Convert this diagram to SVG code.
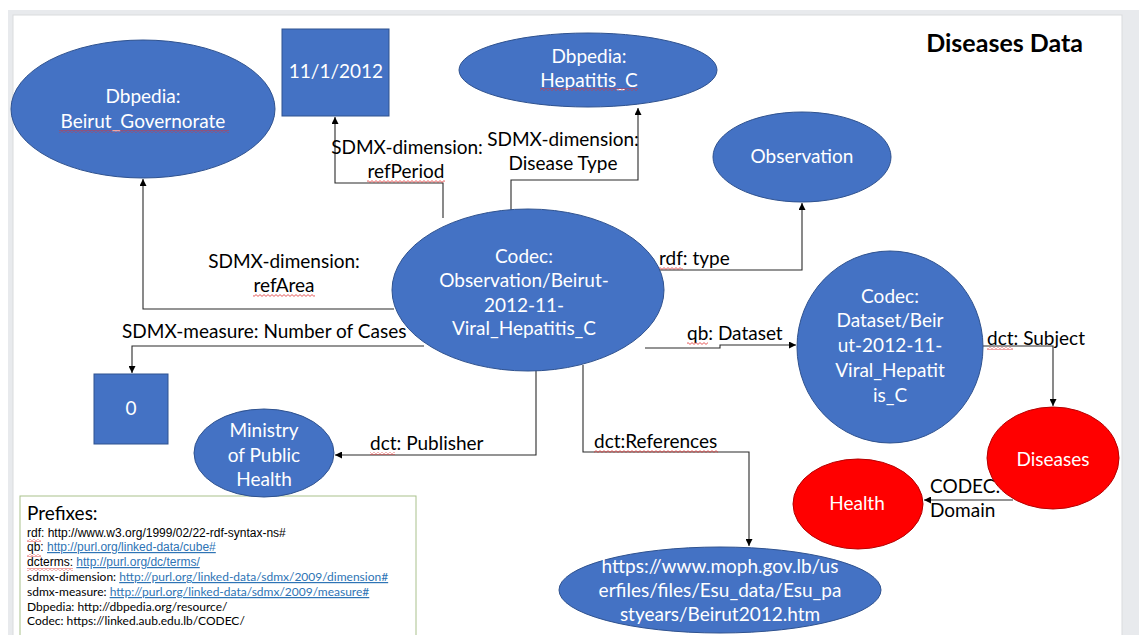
<svg xmlns="http://www.w3.org/2000/svg" width="1139" height="635" viewBox="0 0 1139 635">
  <style>
    .node { fill: #4472c4; stroke: #2f528f; stroke-width: 1; }
    .hot { fill: #ff0000; stroke: #b50000; stroke-width: 1; }
    .lbl { font-family: Lato, "Liberation Sans", sans-serif; font-size: 19px; fill: #ffffff; text-anchor: middle; }
    .edge-lbl { font-family: Lato, "Liberation Sans", sans-serif; font-size: 19px; fill: #000000; }
    .mid { text-anchor: middle; }
    .wire { fill: none; stroke: #2a2a2a; stroke-width: 1.1; marker-end: url(#arrow); }
    .pfx-a { font-family: "Liberation Sans", Arial, sans-serif; font-size: 12px; fill: #000000; }
    .pfx-c { font-family: Lato, "Liberation Sans", sans-serif; font-size: 12px; fill: #000000; }
    .link { fill: #2e74b5; text-decoration: underline; }
  </style>
  <defs>
    <marker id="arrow" viewBox="0 0 10 10" refX="10" refY="5" markerWidth="7" markerHeight="7" markerUnits="userSpaceOnUse" orient="auto">
      <path d="M0 0 L10 5 L0 10 Z" fill="#000000"/>
    </marker>
    <pattern id="squiggle" patternUnits="userSpaceOnUse" width="4" height="3">
      <path d="M0 0.6 L2 2.4 L4 0.6" fill="none" stroke="#e03030" stroke-width="0.8"/>
    </pattern>
  </defs>

  <!-- page frame -->
  <rect x="0" y="0" width="1139" height="635" fill="#ffffff"/>
  <rect x="8" y="10" width="1131" height="625" fill="#e8eaed"/>
  <rect x="13" y="15" width="1109" height="625" fill="#ffffff" stroke="#d9dbde" stroke-width="1"/>

  <!-- title -->
  <text x="1083" y="52" font-family="Lato, 'Liberation Sans', sans-serif" font-size="25" font-weight="bold" text-anchor="end" fill="#000000">Diseases Data</text>

  <!-- connectors -->
  <g id="connectors">
    <!-- refArea -->
    <path class="wire" d="M394 309 H143 V179"/>
    <!-- refPeriod -->
    <path class="wire" d="M443 218 V183 H335 V117"/>
    <!-- Disease Type -->
    <path class="wire" d="M511 212 V180 H638 V108"/>
    <!-- rdf: type -->
    <path class="wire" d="M658 270 H802 V203"/>
    <!-- qb: Dataset -->
    <path class="wire" d="M645 348 H720 V345 H796"/>
    <!-- dct: Subject -->
    <path class="wire" d="M983 346 H1053 V406"/>
    <!-- CODEC: Domain -->
    <path class="wire" d="M1013 500 H924"/>
    <!-- SDMX-measure -->
    <path class="wire" d="M424 346 H132 V373"/>
    <!-- dct: Publisher -->
    <path class="wire" d="M536 368 V455 H335"/>
    <!-- dct:References -->
    <path class="wire" d="M583 365 V452 H749 V546"/>

    <text class="edge-lbl mid" x="284" y="268">SDMX-dimension:</text>
    <text class="edge-lbl mid" x="284" y="292">refArea</text>
    <text class="edge-lbl mid" x="407" y="154">SDMX-dimension:</text>
    <text class="edge-lbl mid" x="406" y="178">refPeriod</text>
    <text class="edge-lbl mid" x="563" y="146">SDMX-dimension:</text>
    <text class="edge-lbl mid" x="563" y="170">Disease Type</text>
    <text class="edge-lbl" x="659" y="265">rdf: type</text>
    <text class="edge-lbl" x="687" y="340">qb: Dataset</text>
    <text class="edge-lbl" x="987" y="345">dct: Subject</text>
    <text class="edge-lbl" x="930" y="493">CODEC:</text>
    <text class="edge-lbl" x="930" y="517">Domain</text>
    <text class="edge-lbl" x="122" y="338">SDMX-measure: Number of Cases</text>
    <text class="edge-lbl" x="370" y="450">dct: Publisher</text>
    <text class="edge-lbl" x="594" y="448">dct:References</text>

    <!-- spell-check marks -->
    <rect x="367" y="180" width="78" height="3" fill="url(#squiggle)"/>
    <rect x="253" y="294" width="62" height="3" fill="url(#squiggle)"/>
    <rect x="659" y="267" width="24" height="3" fill="url(#squiggle)"/>
    <rect x="687" y="342" width="21" height="3" fill="url(#squiggle)"/>
    <rect x="987" y="347" width="26" height="3" fill="url(#squiggle)"/>
    <rect x="370" y="452" width="25" height="3" fill="url(#squiggle)"/>
    <rect x="594" y="450" width="124" height="3" fill="url(#squiggle)"/>
  </g>

  <!-- prefix legend -->
  <g id="prefixes">
    <rect x="20" y="496" width="396" height="150" fill="#ffffff" stroke="#a9c18c" stroke-width="1"/>
    <text x="27" y="520" font-family="Lato, 'Liberation Sans', sans-serif" font-size="19" fill="#000000">Prefixes:</text>
    <text class="pfx-a" x="27" y="537">rdf: http://www.w3.org/1999/02/22-rdf-syntax-ns#</text>
    <text class="pfx-a" x="27" y="551">qb: <tspan class="link">http://purl.org/linked-data/cube#</tspan></text>
    <text class="pfx-a" x="27" y="566">dcterms: <tspan class="link">http://purl.org/dc/terms/</tspan></text>
    <text class="pfx-c" x="27" y="581">sdmx-dimension: <tspan class="link">http://purl.org/linked-data/sdmx/2009/dimension#</tspan></text>
    <text class="pfx-c" x="27" y="596">sdmx-measure: <tspan class="link">http://purl.org/linked-data/sdmx/2009/measure#</tspan></text>
    <text class="pfx-c" x="27" y="611">Dbpedia: http://dbpedia.org/resource/</text>
    <text class="pfx-c" x="27" y="625">Codec: https://linked.aub.edu.lb/CODEC/</text>
    <rect x="27" y="539" width="14" height="3" fill="url(#squiggle)"/>
    <rect x="27" y="554" width="14" height="3" fill="url(#squiggle)"/>
    <rect x="27" y="568" width="46" height="3" fill="url(#squiggle)"/>
  </g>

  <g id="beirut-governorate">
    <ellipse class="node" cx="143" cy="109" rx="132" ry="69"/>
    <text class="lbl" x="143" y="103">Dbpedia:</text>
    <text class="lbl" x="143" y="128">Beirut_Governorate</text>
    <rect x="59" y="130" width="170" height="3" fill="url(#squiggle)"/>
  </g>

  <g id="ref-period">
    <rect class="node" x="282" y="29" width="107" height="87"/>
    <text class="lbl" x="336" y="78">11/1/2012</text>
  </g>

  <g id="hepatitis-c">
    <ellipse class="node" cx="588" cy="70" rx="129" ry="37"/>
    <text class="lbl" x="589" y="63">Dbpedia:</text>
    <text class="lbl" x="589" y="87">Hepatitis_C</text>
    <rect x="540" y="88" width="98" height="3" fill="url(#squiggle)"/>
  </g>

  <g id="observation-class">
    <ellipse class="node" cx="802" cy="157" rx="89" ry="45"/>
    <text class="lbl" x="802" y="163">Observation</text>
  </g>

  <g id="observation">
    <ellipse class="node" cx="528" cy="290" rx="136" ry="81"/>
    <text class="lbl" x="524" y="263">Codec:</text>
    <text class="lbl" x="524" y="287">Observation/Beirut-</text>
    <text class="lbl" x="524" y="312">2012-11-</text>
    <text class="lbl" x="524" y="335">Viral_Hepatitis_C</text>
  </g>

  <g id="dataset">
    <ellipse class="node" cx="890" cy="347" rx="93" ry="96"/>
    <text class="lbl" x="890" y="303">Codec:</text>
    <text class="lbl" x="890" y="327">Dataset/Beir</text>
    <text class="lbl" x="890" y="352">ut-2012-11-</text>
    <text class="lbl" x="890" y="377">Viral_Hepatit</text>
    <text class="lbl" x="890" y="402">is_C</text>
  </g>

  <g id="diseases">
    <ellipse class="hot" cx="1053" cy="458" rx="66" ry="51"/>
    <text class="lbl" x="1053" y="466">Diseases</text>
  </g>

  <g id="health">
    <ellipse class="hot" cx="858" cy="504" rx="65" ry="45"/>
    <text class="lbl" x="857" y="510">Health</text>
  </g>

  <g id="case-count">
    <rect class="node" x="94" y="374" width="74" height="70"/>
    <text class="lbl" x="131" y="415">0</text>
  </g>

  <g id="ministry">
    <ellipse class="node" cx="264" cy="453" rx="70" ry="44"/>
    <text class="lbl" x="264" y="437">Ministry</text>
    <text class="lbl" x="264" y="462">of Public</text>
    <text class="lbl" x="264" y="486">Health</text>
  </g>

  <g id="source-page">
    <ellipse class="node" cx="720" cy="590" rx="161" ry="43"/>
    <text class="lbl" x="720" y="573">https://www.moph.gov.lb/us</text>
    <text class="lbl" x="720" y="597">erfiles/files/Esu_data/Esu_pa</text>
    <text class="lbl" x="720" y="621">styears/Beirut2012.htm</text>
  </g>
</svg>
